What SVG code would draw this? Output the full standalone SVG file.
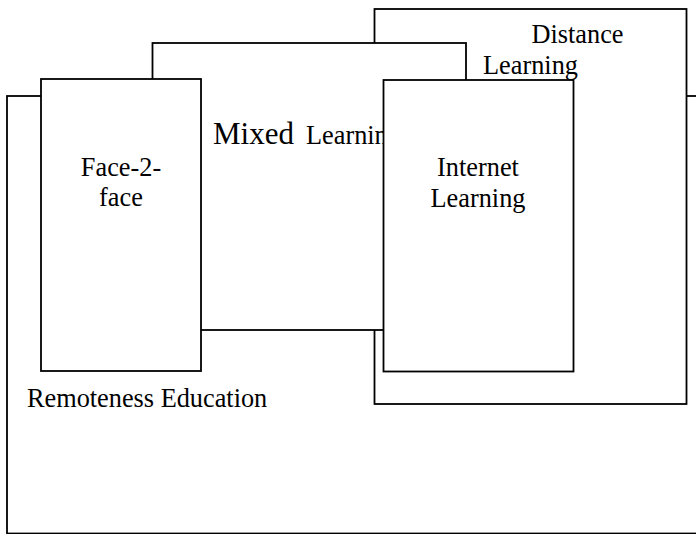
<svg xmlns="http://www.w3.org/2000/svg" width="696" height="534" viewBox="0 0 696 534">
<style>
.box{fill:#fff;stroke:#000;stroke-width:1.8}
.t{font-size:26.3px;fill:#000}
.m{text-anchor:middle}
</style>
<rect width="696" height="534" fill="#fff"/>
<g font-family="Liberation Serif, Tinos, Times New Roman, DejaVu Serif, serif">
<g id="remoteness-education">
<rect class="box" x="7" y="96" width="700" height="437.5"/>
<text class="t" x="27" y="407" font-size="26.5">Remoteness Education</text>
</g>
<g id="distance-learning">
<rect class="box" x="374.5" y="9" width="312" height="395"/>
<text class="t m" x="577.5" y="43">Distance</text>
<text class="t m" x="530.5" y="74">Learning</text>
</g>
<g id="mixed-learning">
<rect class="box" x="152.5" y="43" width="313.5" height="287"/>
<text class="t" x="213" y="144" xml:space="preserve"><tspan font-size="31">Mixed </tspan><tspan x="306">Learning</tspan></text>
</g>
<g id="face-2-face">
<rect class="box" x="41" y="79" width="160" height="292"/>
<text class="t m" x="121" y="176">Face-2-</text>
<text class="t m" x="121" y="206">face</text>
</g>
<g id="internet-learning">
<rect class="box" x="383.5" y="80" width="190" height="291.5"/>
<text class="t m" x="478" y="176">Internet</text>
<text class="t m" x="478" y="207">Learning</text>
</g>
</g>
</svg>
